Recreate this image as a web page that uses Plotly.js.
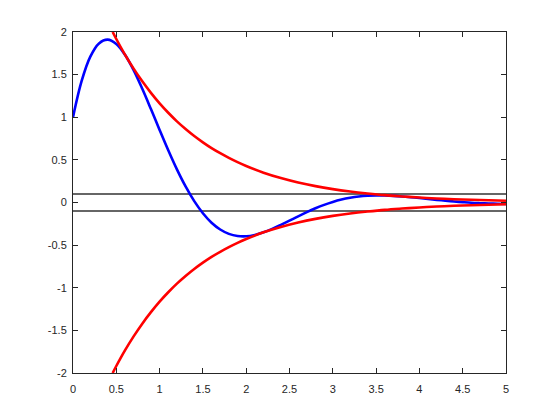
<!DOCTYPE html>
<html>
<head>
<meta charset="utf-8">
<script src="https://cdn.plot.ly/plotly-3.0.1.min.js"></script>
<style>html,body{margin:0;padding:0;background:#fff;}#chart{width:560px;height:420px;}</style>
</head>
<body>
<div id="chart"></div>
<script>
// Blue response curve
const tBlue = [0,0.1,0.2,0.3,0.4,0.5,0.6,0.7,0.8,0.9,1.0,1.1,1.2,1.3,1.4,1.5,1.6,1.7,1.8,1.9,2.0,2.1,2.2,2.3,2.4,2.5,2.6,2.7,2.8,2.9,3.0,3.1,3.2,3.3,3.4,3.5,3.6,3.7,3.8,3.9,4.0,4.1,4.2,4.3,4.4,4.5,4.6,4.7,4.8,4.9,5.0];
const yBlue = [1.000,1.426,1.711,1.866,1.910,1.859,1.733,1.553,1.334,1.096,0.851,0.612,0.388,0.188,0.016,-0.126,-0.237,-0.317,-0.368,-0.393,-0.396,-0.380,-0.350,-0.310,-0.263,-0.213,-0.162,-0.113,-0.068,-0.028,0.006,0.034,0.055,0.070,0.079,0.082,0.082,0.078,0.071,0.062,0.052,0.041,0.031,0.021,0.012,0.004,-0.003,-0.008,-0.012,-0.015,-0.017];
// Red envelope (upper; lower is its mirror)
const tEnv = [0.458,0.5,0.6,0.7,0.8,0.9,1.0,1.1,1.2,1.3,1.4,1.5,1.6,1.7,1.8,1.9,2.0,2.2,2.4,2.6,2.8,3.0,3.2,3.4,3.6,3.8,4.0,4.2,4.4,4.6,4.8,5.0];
const yEnvUpper = [2.000,1.918,1.735,1.570,1.421,1.286,1.163,1.053,0.952,0.862,0.780,0.706,0.638,0.578,0.523,0.473,0.428,0.350,0.287,0.235,0.192,0.157,0.129,0.106,0.086,0.071,0.058,0.047,0.039,0.032,0.026,0.021];
const yEnvLower = [-2.000,-1.918,-1.735,-1.570,-1.421,-1.286,-1.163,-1.053,-0.952,-0.862,-0.780,-0.706,-0.638,-0.578,-0.523,-0.473,-0.428,-0.350,-0.287,-0.235,-0.192,-0.157,-0.129,-0.106,-0.086,-0.071,-0.058,-0.047,-0.039,-0.032,-0.026,-0.021];
// Tolerance band lines
const bandX = [0,5];
const bandUpper = [0.1,0.1];
const bandLower = [-0.1,-0.1];
// Tick labels
const xTickVals = [0,0.5,1,1.5,2,2.5,3,3.5,4,4.5,5];
const xTickText = ["0","0.5","1","1.5","2","2.5","3","3.5","4","4.5","5"];
const yTickVals = [-2,-1.5,-1,-0.5,0,0.5,1,1.5,2];
const yTickText = ["-2","-1.5","-1","-0.5","0","0.5","1","1.5","2"];

const traces = [
  {x: bandX, y: bandUpper, mode:'lines', line:{color:'#333333', width:1.6}, hoverinfo:'skip'},
  {x: bandX, y: bandLower, mode:'lines', line:{color:'#333333', width:1.6}, hoverinfo:'skip'},
  {x: tBlue, y: yBlue, mode:'lines', line:{color:'#0000ff', width:2.6, shape:'spline'}},
  {x: tEnv, y: yEnvUpper, mode:'lines', line:{color:'#ff0000', width:2.6, shape:'spline'}},
  {x: tEnv, y: yEnvLower, mode:'lines', line:{color:'#ff0000', width:2.6, shape:'spline'}}
];

const axisCommon = {
  showgrid:false, zeroline:false, showline:true, linecolor:'#262626', linewidth:1,
  mirror:'ticks', ticks:'inside', ticklen:5, tickcolor:'#262626', tickwidth:1,
  tickfont:{family:'Liberation Sans, Arial, sans-serif', size:11, color:'#262626'}
};

const layout = {
  width:560, height:420,
  margin:{l:73, r:54, t:32, b:47},
  paper_bgcolor:'#ffffff', plot_bgcolor:'#ffffff',
  showlegend:false,
  xaxis: Object.assign({}, axisCommon, {range:[0,5], tickmode:'array', tickvals:xTickVals, ticktext:xTickText, ticklabelstandoff:6}),
  yaxis: Object.assign({}, axisCommon, {range:[-2,2], tickmode:'array', tickvals:yTickVals, ticktext:yTickText, ticklabelstandoff:3})
};

Plotly.newPlot('chart', traces, layout, {staticPlot:true, displayModeBar:false});
</script>
</body>
</html>
